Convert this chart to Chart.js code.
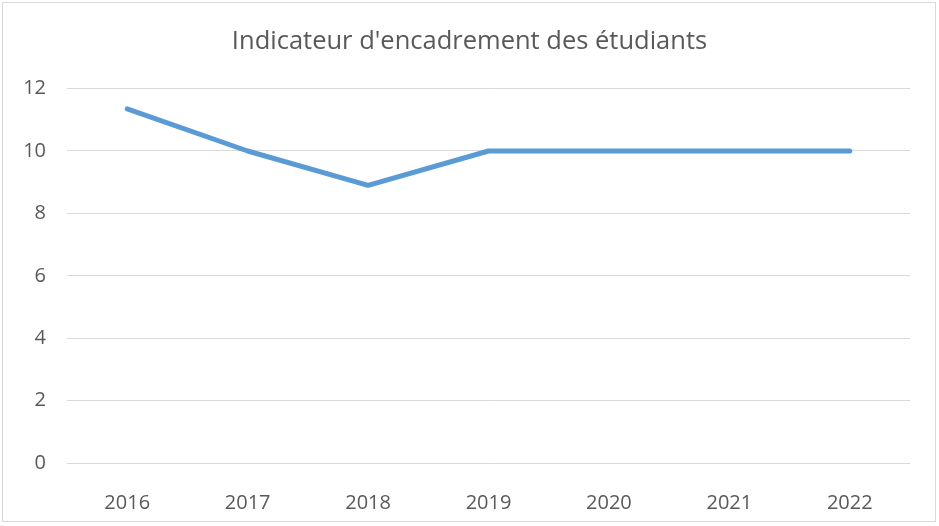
<!DOCTYPE html>
<html>
<head>
<meta charset="utf-8">
<script src="https://cdn.jsdelivr.net/npm/chart.js@4"></script>
<style>
    body { margin: 0; background: #fff; }
    #wrap { position: relative; width: 939px; height: 526px; }
    #cadre { position: absolute; left: 2px; top: 2px; width: 932px; height: 518px; border: 1px solid #d9d9d9; }
    canvas { position: absolute; left: 0; top: 0; }
</style>
</head>
<body>
<div id="wrap">
    <div id="cadre"></div>
    <canvas id="chart_encadrement" width="939" height="526"></canvas>
</div>
<script>
// donnees
var annees = ["2016", "2017", "2018", "2019", "2020", "2021", "2022"];
var encadrement = [11.35, 10, 8.9, 10, 10, 10, 10];
var titre = "Indicateur d'encadrement des étudiants";

Chart.defaults.font.family = "'Open Sans', sans-serif";
Chart.defaults.color = '#595959';

function chartCreate() {
    const data = {
        labels: annees,
        datasets: [{
            label: titre,
            borderColor: '#5B9BD5',
            backgroundColor: '#5B9BD5',
            borderWidth: 5,
            borderCapStyle: 'round',
            borderJoinStyle: 'round',
            pointRadius: 0,
            tension: 0,
            data: encadrement,
        }]
    };
    const config = {
        type: 'line',
        data: data,
        options: {
            responsive: false,
            animation: false,
            layout: { padding: 0 },
            plugins: {
                legend: { display: false },
                tooltip: { enabled: false },
                title: {
                    display: true,
                    text: titre,
                    color: '#595959',
                    font: { size: 25.5, weight: 'normal' },
                    padding: { top: 26, bottom: 32 }
                }
            },
            scales: {
                x: {
                    offset: true,
                    grid: { display: false },
                    border: { display: false },
                    ticks: { font: { size: 20 }, padding: 20, color: '#595959' },
                    afterFit: function(scale) { scale.height = 63; }
                },
                y: {
                    min: 0,
                    max: 12,
                    ticks: { stepSize: 2, font: { size: 20 }, padding: 21, color: '#595959' },
                    grid: { color: '#d9d9d9', lineWidth: 1, drawTicks: false },
                    border: { display: false },
                    afterFit: function(scale) { scale.width = 67; }
                },
                // axe vide a droite pour la marge
                marge: {
                    position: 'right',
                    min: 0,
                    max: 12,
                    grid: { display: false },
                    border: { display: false },
                    ticks: { display: false },
                    afterFit: function(scale) { scale.width = 29; }
                }
            }
        }
    };
    const myChart = new Chart(
        document.getElementById('chart_encadrement'),
        config
    );
}

chartCreate();
</script>
</body>
</html>
